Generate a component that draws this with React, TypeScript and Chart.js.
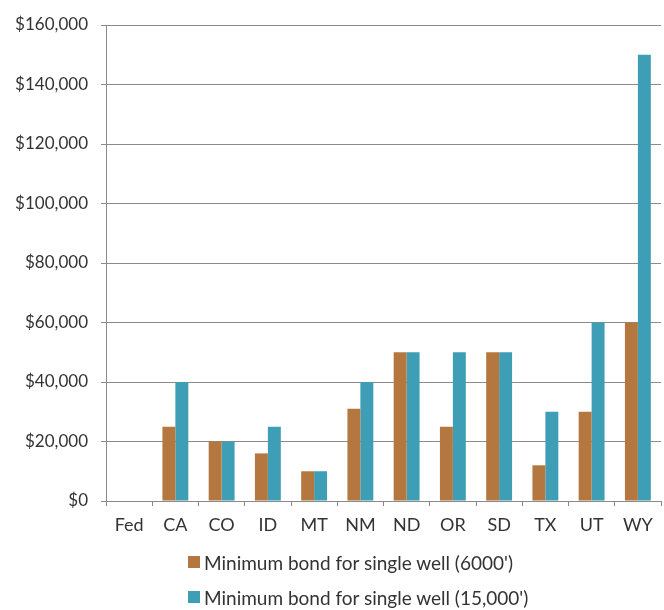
import React, { useEffect, useRef } from "react";
import { Chart, registerables } from "chart.js";

Chart.register(...registerables);

const categories = ["Fed", "CA", "CO", "ID", "MT", "NM", "ND", "OR", "SD", "TX", "UT", "WY"];
const bond6000 = [0, 25000, 20000, 16000, 10000, 31000, 50000, 25000, 50000, 12000, 30000, 60000];
const bond15000 = [0, 40000, 20000, 25000, 10000, 40000, 50000, 50000, 50000, 30000, 60000, 150000];
const seriesLabels = ["Minimum bond for single well (6000')", "Minimum bond for single well (15,000')"];
const seriesColors = ["#B4773F", "#3E9EB5"];
const yMin = 0;
const yMax = 160000;
const yStep = 20000;

const FONT = "Lato, 'Open Sans', sans-serif";
const TEXT = "#333333";
const GRID = "#8a8a8a";

export default function App() {
  const ref = useRef<HTMLCanvasElement | null>(null);

  useEffect(() => {
    if (!ref.current) return;
    const chart = new Chart(ref.current, {
      type: "bar",
      data: {
        labels: categories,
        datasets: [
          {
            label: seriesLabels[0],
            data: bond6000,
            backgroundColor: seriesColors[0],
            borderWidth: 0,
            categoryPercentage: 0.56,
            barPercentage: 1.0,
          },
          {
            label: seriesLabels[1],
            data: bond15000,
            backgroundColor: seriesColors[1],
            borderWidth: 0,
            categoryPercentage: 0.56,
            barPercentage: 1.0,
          },
        ],
      },
      options: {
        animation: false,
        responsive: false,
        maintainAspectRatio: false,
        layout: { padding: { left: 0, right: 3, top: 25, bottom: 69 } },
        plugins: {
          legend: { display: false },
          tooltip: { enabled: false },
        },
        scales: {
          x: {
            grid: {
              offset: true,
              drawOnChartArea: false,
              drawTicks: true,
              tickLength: 5,
              color: GRID,
            },
            border: { display: true, color: GRID, width: 1 },
            ticks: {
              color: TEXT,
              font: { family: FONT, size: 18 },
              padding: 8,
              maxRotation: 0,
              autoSkip: false,
            },
            afterFit: (scale: any) => {
              scale.height = 40;
            },
          },
          y: {
            min: yMin,
            max: yMax,
            grid: {
              color: GRID,
              drawTicks: true,
              tickLength: 5,
              lineWidth: 1,
            },
            border: { display: true, color: GRID, width: 1 },
            ticks: {
              stepSize: yStep,
              color: TEXT,
              font: { family: FONT, size: 17 },
              padding: 13,
              callback: (v: any) => "$" + Number(v).toLocaleString("en-US"),
            },
            afterFit: (scale: any) => {
              scale.width = 106;
            },
          },
        },
      },
    });
    return () => chart.destroy();
  }, []);

  return (
    <div style={{ position: "absolute", left: 0, top: 0, width: 664, height: 610, background: "#fff" }}>
      <canvas ref={ref} width={664} height={610} style={{ display: "block" }} />
      {seriesLabels.map((label, i) => (
        <div
          key={label}
          style={{
            position: "absolute",
            left: 188,
            top: i === 0 ? 551 : 586,
            height: 22,
            display: "flex",
            alignItems: "center",
            fontFamily: FONT,
            fontSize: 19,
            color: TEXT,
            whiteSpace: "nowrap",
          }}
        >
          <span
            style={{
              display: "inline-block",
              width: 12,
              height: 12,
              background: seriesColors[i],
              marginRight: 4,
            }}
          />
          <span>{label}</span>
        </div>
      ))}
    </div>
  );
}
